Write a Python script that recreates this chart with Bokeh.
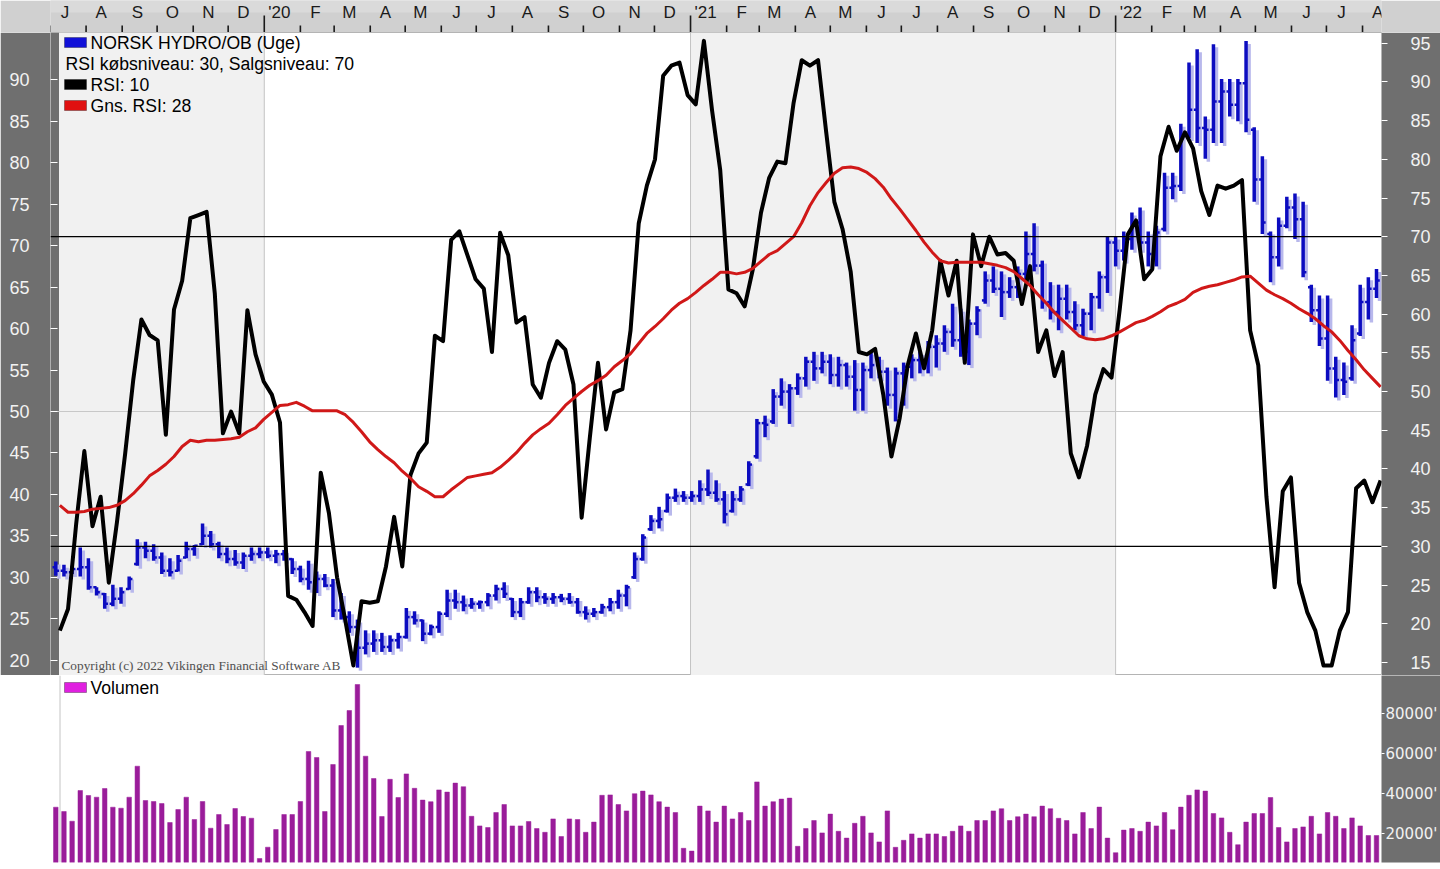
import pandas as pd
from bokeh.plotting import figure
from bokeh.models import Range1d, LinearAxis, FixedTicker, Span, BoxAnnotation, Label, ColumnDataSource
from bokeh.layouts import column
from bokeh.embed import file_html
from bokeh.resources import INLINE
from bokeh.core.properties import value

# ---------------- data (weekly) ----------------
week_start = "2019-07-06"
n_weeks = 163

high = [31.9,31.5,31.4,33.6,32.3,28.8,28.1,29.1,28.8,30.1,
        34.6,34.3,34.0,33.0,32.3,32.7,34.3,33.9,36.5,35.6,
        34.3,33.6,33.3,33.0,33.6,33.6,33.6,33.3,33.3,32.3,
        31.4,32.0,30.7,30.4,29.8,28.1,25.9,24.9,23.6,23.6,
        23.3,23.0,23.3,26.3,25.9,24.9,24.3,25.9,28.5,28.5,
        27.8,27.5,27.2,28.1,29.1,29.4,27.5,27.5,28.8,28.8,
        28.1,28.1,28.0,28.1,27.5,26.5,26.3,26.8,27.5,28.5,
        29.1,33.0,35.2,37.5,38.5,40.1,40.7,40.4,40.4,41.7,
        43.0,41.7,40.4,40.4,41.0,44.0,49.1,49.5,52.7,54.0,
        53.3,54.6,56.6,57.2,57.2,56.9,56.6,55.9,56.2,55.9,
        57.2,56.6,55.3,55.3,55.9,56.9,57.2,58.5,59.2,60.4,
        63.0,62.4,61.1,62.7,66.9,67.5,66.9,66.2,67.5,71.7,
        72.7,68.2,65.6,65.3,65.3,63.3,62.4,64.3,66.9,71.1,
        71.1,71.7,74.0,74.6,71.7,72.4,78.8,78.8,84.7,92.1,
        93.7,85.6,94.3,90.1,90.1,90.1,94.7,84.3,80.8,71.7,
        73.4,75.9,76.3,75.3,65.3,64.0,64.0,56.6,55.9,60.4,
        65.3,66.2,67.2]
low = [30.2,30.1,30.4,30.1,28.5,27.8,26.2,26.5,26.8,28.5,
       31.4,32.3,32.0,30.4,30.1,30.7,32.3,32.6,33.9,33.6,
       32.3,31.7,31.4,31.0,32.0,32.3,32.3,31.7,32.0,30.4,
       29.4,28.5,28.1,28.8,25.2,24.9,23.3,19.1,20.7,21.0,
       21.0,21.0,21.4,22.6,24.3,22.3,23.0,23.3,25.2,26.2,
       25.9,26.2,26.2,26.5,27.2,27.5,25.2,25.2,26.8,27.0,
       26.8,26.8,27.0,26.8,25.6,24.9,25.2,25.6,25.9,26.2,
       26.5,29.8,32.0,35.6,35.9,37.8,39.1,39.1,39.1,39.1,
       39.8,39.1,36.5,37.8,39.1,41.0,44.3,46.9,48.5,50.7,
       48.5,52.0,53.0,53.7,54.6,53.3,53.0,53.0,50.1,50.1,
       54.0,54.0,50.7,48.8,50.7,54.0,54.6,54.6,55.3,57.2,
       57.8,56.6,55.6,59.2,63.0,64.3,61.4,63.7,63.7,65.6,
       66.9,62.4,61.1,59.8,61.1,59.8,59.1,59.8,62.4,64.3,
       67.5,68.2,69.5,69.5,67.5,67.5,71.7,75.6,76.6,83.0,
       82.4,80.5,82.4,82.4,85.6,85.0,83.7,75.3,71.4,65.6,
       67.5,72.1,70.8,66.2,60.8,57.9,53.7,51.7,52.0,53.7,
       59.1,61.1,63.7]
open_ = [31.2,30.8,30.6,31.0,31.2,28.8,28.0,26.8,27.4,28.6,
         31.6,33.6,33.2,32.4,30.8,30.8,32.4,33.4,34.0,35.0,
         34.0,32.8,32.2,31.8,32.6,32.8,33.0,32.6,32.8,32.2,
         31.0,29.8,29.4,29.8,29.0,26.0,25.2,24.0,21.5,22.0,
         22.4,21.6,22.4,22.8,25.2,24.8,23.2,24.0,25.6,27.2,
         27.0,26.6,26.8,27.0,27.8,28.6,27.4,25.8,27.0,28.2,
         27.6,27.4,27.6,27.4,27.0,25.8,25.6,25.8,26.4,27.0,
         27.8,30.0,32.2,35.8,36.8,38.0,39.6,39.8,39.6,39.8,
         40.6,40.2,39.4,38.0,39.4,41.2,44.6,48.6,48.8,51.8,
         52.4,52.8,54.0,56.0,55.2,56.0,54.4,55.6,54.2,52.6,
         55.0,55.6,54.8,52.0,54.6,55.4,56.2,56.2,57.8,58.2,
         59.6,58.6,57.2,60.6,63.4,65.8,64.8,64.4,65.0,66.6,
         69.0,67.6,63.2,62.0,63.6,62.0,60.4,61.8,63.8,66.2,
         70.4,69.4,70.8,72.8,70.4,69.0,72.0,77.0,77.2,83.2,
         86.4,84.2,84.0,87.4,88.6,87.0,89.6,84.0,78.0,71.4,
         68.6,72.4,74.6,73.2,65.0,62.2,58.8,55.2,53.8,54.0,
         59.4,63.2,64.8]
close = [30.8,30.6,31.0,31.2,28.8,28.2,26.8,27.4,28.2,29.8,
         33.6,33.2,32.4,30.8,30.6,32.0,33.4,33.8,35.0,34.0,
         32.8,32.2,31.8,32.6,32.8,33.0,32.6,32.8,32.4,31.0,
         29.8,29.4,29.8,29.0,26.0,25.2,24.0,21.5,22.0,22.4,
         21.6,22.4,22.8,25.2,24.8,23.2,24.0,25.6,27.2,27.0,
         26.6,26.8,27.0,27.8,28.6,28.0,25.8,27.0,28.2,27.6,
         27.4,27.6,27.4,27.0,25.8,25.6,25.8,26.4,27.0,27.8,
         28.8,32.2,34.8,36.8,37.0,39.6,39.8,39.6,39.8,40.6,
         40.2,39.4,37.6,39.4,40.6,43.6,48.6,48.4,51.8,52.4,
         52.8,54.0,56.0,55.2,56.0,54.4,55.6,54.2,52.6,55.0,
         55.6,54.8,52.0,54.6,55.4,56.2,56.2,57.8,58.2,59.6,
         58.6,57.2,60.6,62.2,65.8,64.8,64.4,65.0,66.6,69.0,
         67.6,63.2,62.0,63.6,62.0,60.4,61.8,63.8,66.2,70.4,
         69.4,70.8,72.8,70.4,69.0,71.6,77.0,77.2,83.2,86.4,
         84.2,84.0,87.4,88.6,87.0,89.6,85.2,78.0,72.8,68.6,
         72.4,74.6,73.2,66.8,62.2,58.8,55.2,53.8,53.6,58.6,
         63.2,64.8,65.8]
volume = [33150,31000,26150,41500,39000,38150,42500,33150,32650,38150,
          53650,36500,36000,35000,25500,32000,38150,27000,36000,22650,
          29500,24500,32500,28500,27650,7500,13150,22000,29500,29500,
          36000,61000,58000,31000,54500,74000,81500,94500,58650,47500,
          28500,47100,38000,49800,42600,36700,35900,41800,40700,45200,
          43400,28600,23800,23000,30500,34500,23800,23800,26000,22500,
          20600,27300,18500,27300,27000,20600,25700,39100,39300,34500,
          31300,39900,41200,39300,35900,33200,30500,12600,11200,33700,
          31300,25700,33700,27300,30500,26500,45800,33700,35900,37200,
          37700,13600,22500,26500,20300,29700,21100,17700,25100,28600,
          20300,15800,31300,13100,16600,19800,17700,19800,19800,18500,
          21100,23800,21100,26500,26500,31300,32400,26500,28400,29700,
          28400,33700,32400,27600,26500,19800,30500,22500,33200,17700,
          10400,21700,22500,21100,25700,23800,30500,21900,33200,39100,
          41800,41200,30000,27800,20600,14400,25700,30000,30000,38000,
          23000,15800,22500,23300,28600,19800,30500,28600,22500,27800,
          23800,19000,19000]
rsi = [19.1,21.9,32.9,42.3,32.6,36.4,25.3,33.1,41.9,51.5,
       59.3,57.3,56.6,44.4,60.6,64.3,72.4,72.8,73.2,62.7,
       44.6,47.4,44.6,60.5,54.8,51.3,49.6,46.0,23.6,23.1,
       21.5,19.7,39.5,34.3,26.0,20.5,14.6,22.9,22.7,22.9,
       27.4,33.8,27.4,39.2,42.0,43.4,57.2,56.5,69.6,70.7,
       67.6,64.5,63.3,55.1,70.5,67.6,58.9,59.6,50.9,49.2,
       53.7,56.5,55.4,50.9,33.7,44.0,53.7,45.1,49.9,50.3,
       57.9,71.7,76.6,80.0,90.8,92.1,92.5,88.3,87.1,95.3,
       86.3,78.6,63.2,62.7,61.0,65.8,73.1,77.6,79.7,79.5,
       87.3,92.8,92.1,92.8,83.5,74.5,71.0,65.5,55.1,54.8,
       55.5,49.6,41.6,46.5,53.4,57.5,53.0,57.9,66.9,62.4,
       66.9,53.7,70.3,66.2,70.0,67.7,67.9,66.9,61.3,66.2,
       55.1,57.9,52.0,55.1,42.0,38.9,43.0,49.6,52.9,51.8,
       60.6,70.3,72.1,64.5,65.8,80.4,84.2,81.1,83.5,81.4,
       75.9,72.8,76.6,76.2,76.6,77.3,57.9,53.4,36.4,24.7,
       37.1,38.9,25.3,21.5,19.1,14.6,14.6,19.1,21.5,37.5,
       38.5,35.7,38.5]
rsi_avg = [35.3,34.4,34.4,34.5,34.8,34.9,35.0,35.3,35.9,36.8,
           37.9,39.1,39.8,40.6,41.6,42.9,43.7,43.5,43.7,43.7,
           43.8,43.9,44.1,44.8,45.3,46.4,47.3,48.2,48.3,48.6,
           48.1,47.5,47.5,47.5,47.5,47.0,46.0,44.8,43.5,42.5,
           41.6,40.8,39.7,38.8,37.7,37.1,36.4,36.4,37.3,38.1,
           38.9,39.1,39.3,39.5,40.2,41.1,42.1,43.3,44.4,45.2,
           45.9,47.0,48.2,49.1,50.0,50.8,51.4,52.1,53.2,54.0,
           54.9,56.2,57.5,58.4,59.4,60.5,61.4,62.0,62.8,63.7,
           64.5,65.4,65.4,65.2,65.4,65.9,66.8,67.7,68.2,69.1,
           70.0,71.8,74.0,75.7,77.0,78.2,78.9,79.0,78.8,78.3,
           77.5,76.4,74.9,73.6,72.2,70.8,69.3,68.0,66.9,66.6,
           66.7,66.7,66.7,66.7,66.5,66.3,66.0,65.5,64.6,63.7,
           62.5,61.4,60.2,59.2,58.2,57.2,56.8,56.7,56.8,57.2,
           57.7,58.3,58.9,59.2,59.7,60.3,61.0,61.4,61.9,62.8,
           63.3,63.6,63.8,64.1,64.4,64.8,64.9,64.0,63.1,62.5,
           62.0,61.4,60.7,60.1,59.4,58.5,57.7,56.6,55.3,54.1,
           52.8,51.7,50.6]

price_ticks = [20, 25, 30, 35, 40, 45, 50, 55, 60, 65, 70, 75, 80, 85, 90]
rsi_ticks = [15, 20, 25, 30, 35, 40, 45, 50, 55, 60, 65, 70, 75, 80, 85, 90, 95]
rsi_levels = [30, 70]
volume_ticks = [20000, 40000, 60000, 80000]
volume_tick_labels = ["20000'", "40000'", "60000'", "80000'"]
legend_lines = ["NORSK HYDRO/OB (Uge)", "RSI købsniveau: 30, Salgsniveau: 70", "RSI: 10", "Gns. RSI: 28"]
month_letters = "JFMAMJJASOND"
year_starts = ["2020-01-01", "2021-01-01", "2022-01-01"]

for arr in (high, low, open_, close, volume, rsi, rsi_avg):
    assert len(arr) == n_weeks, len(arr)

# ---------------- geometry helpers (reference pixel -> data) ----------------
PX_PER_DAY = 1.16464
D0 = pd.Timestamp(week_start)
def xdate(px):
    return D0 + pd.Timedelta(days=(px - 55.3) / PX_PER_DAY)
def ms(ts):
    return pd.Timestamp(ts).value / 1e6
def yprice(py):
    return 50 - (py - 411) / 8.29
def yrsi(py):
    return 70 - (py - 236.2) / 7.74
def yvol(py):
    return (873 - py) * 500

W = 1440
BL, BR = 50, 59          # frame from x=50 to x=1381
STRIP = "#6f6f6f"
BAND = "#d0d0d0"
LABEL_C = "#f2f2f2"
FONT = "Liberation Sans"
BLUE = "#0c0cc0"
SHADOW = "#b8b8ec"
RED = "#d01818"
VOLC = "#9a1c9a"

dates = pd.date_range(week_start, periods=n_weeks, freq="7D")
line_x = dates + pd.Timedelta(days=3.5)
tick_d = pd.Timedelta(days=2.8)

x_main = Range1d(ms(xdate(BL)), ms(xdate(W - BR)))

# ---------------- top month band (y 0..32) ----------------
t = figure(width=W, height=32, x_range=x_main, y_range=Range1d(0, 32),
           x_axis_location=None, y_axis_location=None, toolbar_location=None,
           output_backend="svg", min_border_left=BL, min_border_right=BR,
           min_border_top=0, min_border_bottom=0, border_fill_color=BAND,
           background_fill_color=BAND, outline_line_color=None)
t.grid.visible = False
t.add_layout(BoxAnnotation(top=32, bottom=20, fill_color="#dadada", fill_alpha=1, line_alpha=0, level="underlay"))
months = pd.date_range("2019-07-01", "2022-08-01", freq="MS")
tick_top = [17 if m.month == 1 else 7 for m in months]
month_labels = [("'%02d" % (m.year % 100)) if m.month == 1 else month_letters[m.month - 1] for m in months]
t.segment(x0=months, y0=0, x1=months, y1=tick_top, line_color="#1a1a1a", line_width=1.6)
t.text(x=months + pd.Timedelta(days=13), y=[20] * len(months), text=month_labels,
       text_align="center", text_baseline="middle", text_font=value(FONT),
       text_font_size="17px", text_color="#1a1a1a")

# ---------------- main price / RSI pane (y 32..675) ----------------
p = figure(width=W, height=643, x_range=x_main,
           y_range=Range1d(yprice(675), yprice(32)),
           x_axis_location=None, y_axis_location=None, toolbar_location=None,
           output_backend="svg", min_border_left=BL, min_border_right=BR,
           min_border_top=0, min_border_bottom=0, border_fill_color=STRIP,
           background_fill_color="white", outline_line_color="#b4b4b4")
p.grid.visible = False
p.extra_y_ranges = {"rsi": Range1d(yrsi(675), yrsi(32))}

p.add_layout(BoxAnnotation(left=ms(xdate(BL)), right=ms("2020-01-01"), fill_color="#f1f1f1",
                           fill_alpha=1, line_alpha=0, level="underlay"))
p.add_layout(BoxAnnotation(left=ms("2021-01-01"), right=ms("2022-01-01"), fill_color="#f1f1f1",
                           fill_alpha=1, line_alpha=0, level="underlay"))
p.add_layout(BoxAnnotation(left=ms(xdate(BL)), right=ms(xdate(58.5)), fill_color=STRIP,
                           fill_alpha=1, line_alpha=0, level="underlay"))
for ys in year_starts:
    p.add_layout(Span(location=ms(ys), dimension="height", line_color="#c4c4c4",
                      line_width=1, level="underlay"))
p.add_layout(Span(location=50, dimension="width", line_color="#c8c8c8", line_width=1, level="underlay"))
for lv in rsi_levels:
    p.add_layout(Span(location=lv, dimension="width", y_range_name="rsi",
                      line_color="black", line_width=1.2))

src = ColumnDataSource(dict(
    x=dates, xl=dates - tick_d, xr=dates + tick_d, xs=dates + pd.Timedelta(days=2.6),
    high=high, low=low, open=open_, close=close,
    hs=[h - 0.36 for h in high], ls=[l - 0.36 for l in low]))
p.segment(x0="xs", y0="ls", x1="xs", y1="hs", source=src, line_color=SHADOW, line_width=3.5)
p.segment(x0="x", y0="low", x1="x", y1="high", source=src, line_color=BLUE, line_width=3.5)
p.segment(x0="xl", y0="open", x1="x", y1="open", source=src, line_color=BLUE, line_width=2.5)
p.segment(x0="x", y0="close", x1="xr", y1="close", source=src, line_color=BLUE, line_width=2.5)

p.line(x=line_x, y=rsi, y_range_name="rsi", line_color="black", line_width=4, line_join="round")
p.line(x=line_x, y=rsi_avg, y_range_name="rsi", line_color=RED, line_width=3, line_join="round")

ax_l = LinearAxis(ticker=FixedTicker(ticks=price_ticks), axis_line_color=None,
                  major_tick_in=7, major_tick_out=0, major_tick_line_color="white",
                  minor_tick_line_color=None, major_label_standoff=21,
                  major_label_text_color=LABEL_C, major_label_text_font=FONT,
                  major_label_text_font_size="18px")
p.add_layout(ax_l, "left")
ax_r = LinearAxis(y_range_name="rsi", ticker=FixedTicker(ticks=rsi_ticks), axis_line_color=None,
                  major_tick_in=0, major_tick_out=6, major_tick_line_color="white",
                  minor_tick_line_color=None, major_label_standoff=23,
                  major_label_text_color=LABEL_C, major_label_text_font=FONT,
                  major_label_text_font_size="18px")
p.add_layout(ax_r, "right")

sw_colors = ["#1010d8", None, "black", "#e01010"]
rows_y = [42, 63, 84, 105]
for txt, col, ry in zip(legend_lines, sw_colors, rows_y):
    if col is not None:
        p.add_layout(BoxAnnotation(left=ms(xdate(64)), right=ms(xdate(86)),
                                   top=yprice(ry - 5), bottom=yprice(ry + 5),
                                   fill_color=col, fill_alpha=1, line_color="black",
                                   line_width=1, level="overlay"))
        tx = 90
    else:
        tx = 65
    p.add_layout(Label(x=ms(xdate(tx)), y=yprice(ry), text=txt, text_font=FONT,
                       text_font_size="17.6px", text_color="black",
                       text_baseline="middle", text_align="left"))
p.add_layout(Label(x=ms(xdate(61)), y=yprice(665), text="Copyright (c) 2022 Vikingen Financial Software AB",
                   text_font="Liberation Serif", text_font_size="13.3px", text_color="#505050",
                   text_baseline="middle", text_align="left"))

# ---------------- volume pane (y 675..862) ----------------
v = figure(width=W, height=194, x_range=x_main,
           y_range=Range1d(yvol(862), yvol(675)),
           x_axis_location=None, y_axis_location=None, toolbar_location=None,
           output_backend="svg", min_border_left=BL, min_border_right=BR,
           min_border_top=0, min_border_bottom=7, border_fill_color="white",
           background_fill_color="white", outline_line_color=None)
v.grid.visible = False
v.add_layout(Span(location=ms(xdate(59.5)), dimension="height", line_color="#c4c4c4",
                  line_width=1, level="underlay"))
v.vbar(x=dates, top=volume, bottom=0, width=3.9 * 86400000, fill_color=VOLC,
       line_color=VOLC, line_width=0.5)
ax_v = LinearAxis(ticker=FixedTicker(ticks=volume_ticks), axis_line_color=None,
                  major_label_overrides={k: s for k, s in zip(volume_ticks, volume_tick_labels)},
                  major_tick_in=0, major_tick_out=3, major_tick_line_color="white",
                  minor_tick_line_color=None, major_label_standoff=1,
                  major_label_text_color=LABEL_C, major_label_text_font="DejaVu Sans",
                  major_label_text_font_size="15px")
try:
    ax_v.background_fill_color = STRIP
except Exception:
    pass
v.add_layout(ax_v, "right")
v.add_layout(BoxAnnotation(left=ms(xdate(64)), right=ms(xdate(86)), top=yvol(682), bottom=yvol(692),
                           fill_color="#e020e0", fill_alpha=1, line_color="black", line_width=1,
                           level="overlay"))
v.add_layout(Label(x=ms(xdate(90)), y=yvol(687), text="Volumen", text_font=FONT,
                   text_font_size="17.6px", text_color="black", text_baseline="middle"))

layout = column(t, p, v, spacing=0)
with open("out.html", "w", encoding="utf-8") as f:
    f.write(file_html(layout, INLINE))
